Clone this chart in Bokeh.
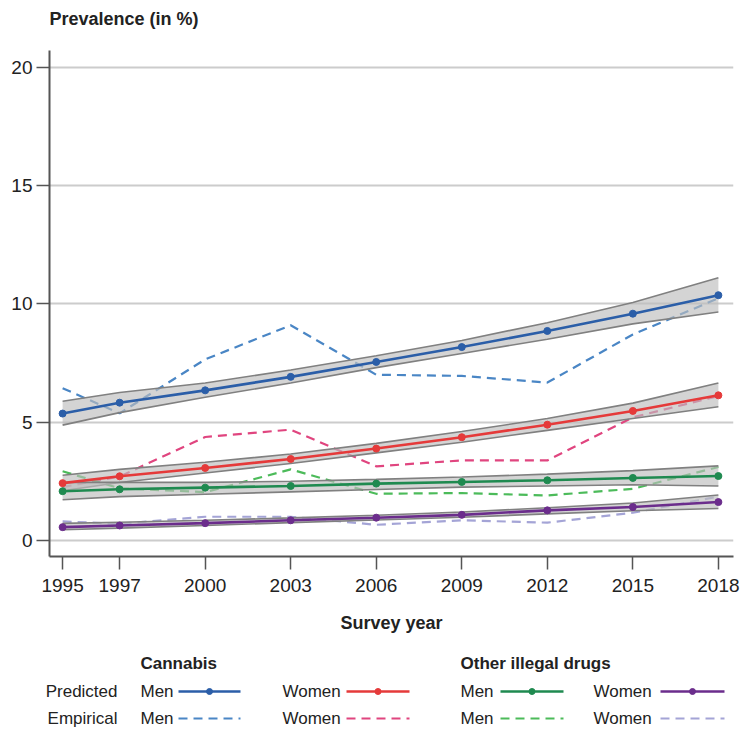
from bokeh.plotting import figure
from bokeh.models import Range1d, FixedTicker, Label, LinearAxis
from bokeh.layouts import column
from bokeh.embed import file_html
from bokeh.resources import INLINE

years = [1995, 1997, 2000, 2003, 2006, 2009, 2012, 2015, 2018]

# Cannabis, men
can_men_pred = [5.36, 5.82, 6.34, 6.91, 7.54, 8.17, 8.85, 9.58, 10.36]
can_men_lo = [4.87, 5.40, 6.05, 6.65, 7.30, 7.90, 8.50, 9.15, 9.65]
can_men_hi = [5.88, 6.25, 6.65, 7.20, 7.80, 8.45, 9.20, 10.05, 11.10]
can_men_emp = [6.43, 5.37, 7.65, 9.09, 7.00, 6.95, 6.67, 8.70, 10.23]

# Cannabis, women
can_wom_pred = [2.42, 2.71, 3.06, 3.44, 3.88, 4.36, 4.89, 5.47, 6.13]
can_wom_lo = [2.10, 2.45, 2.85, 3.25, 3.70, 4.15, 4.65, 5.15, 5.65]
can_wom_hi = [2.75, 3.00, 3.30, 3.65, 4.10, 4.60, 5.15, 5.80, 6.65]
can_wom_emp = [2.25, 2.70, 4.37, 4.68, 3.13, 3.38, 3.38, 5.20, 6.10]

# Other illegal drugs, men
oth_men_pred = [2.08, 2.16, 2.23, 2.30, 2.40, 2.47, 2.54, 2.64, 2.72]
oth_men_lo = [1.72, 1.85, 1.95, 2.05, 2.15, 2.25, 2.30, 2.35, 2.30]
oth_men_hi = [2.45, 2.45, 2.45, 2.50, 2.58, 2.68, 2.80, 2.95, 3.15]
oth_men_emp = [2.92, 2.20, 2.04, 3.00, 1.97, 2.00, 1.90, 2.18, 3.10]

# Other illegal drugs, women
oth_wom_pred = [0.56, 0.63, 0.73, 0.85, 0.96, 1.08, 1.27, 1.41, 1.62]
oth_wom_lo = [0.45, 0.52, 0.63, 0.75, 0.86, 0.98, 1.12, 1.25, 1.35]
oth_wom_hi = [0.72, 0.77, 0.85, 0.95, 1.06, 1.20, 1.38, 1.58, 1.92]
oth_wom_emp = [0.80, 0.70, 1.00, 1.00, 0.66, 0.85, 0.75, 1.17, 1.85]

y_ticks = [0, 5, 10, 15, 20]

series = [
    ("Cannabis", "Men", can_men_pred, can_men_lo, can_men_hi, can_men_emp, "#2b5ea8", "#4a86c5"),
    ("Cannabis", "Women", can_wom_pred, can_wom_lo, can_wom_hi, can_wom_emp, "#e53a3a", "#e0457f"),
    ("Other illegal drugs", "Men", oth_men_pred, oth_men_lo, oth_men_hi, oth_men_emp, "#1f8a50", "#4cbb5a"),
    ("Other illegal drugs", "Women", oth_wom_pred, oth_wom_lo, oth_wom_hi, oth_wom_emp, "#6b2d8c", "#a4a4d6"),
]

FONT = "Liberation Sans"
BL, BR, W = 49, 7, 740
XR = (1994.54, 2018.53)
YR = (-0.68, 20.7)
HH = 36  # header height

# ---- header with the chart title ----
hd = figure(width=W, height=HH, output_backend="svg", toolbar_location=None,
            x_range=Range1d(BL, W - BR), y_range=Range1d(HH, 0),
            x_axis_location=None, y_axis_location=None,
            min_border_left=BL, min_border_right=BR, min_border_top=0, min_border_bottom=0)
hd.outline_line_color = None
hd.grid.visible = False
hd.add_layout(Label(x=BL, y=18, text="Prevalence (in %)", text_font=FONT,
                    text_font_size="18px", text_font_style="bold", text_color="#222222",
                    text_align="left", text_baseline="middle"))

# ---- main chart ----
p = figure(width=W, height=648 - HH, output_backend="svg", toolbar_location=None,
           x_range=Range1d(*XR), y_range=Range1d(*YR),
           min_border_left=BL, min_border_right=BR, min_border_top=50 - HH, min_border_bottom=92)
p.outline_line_color = None
p.background_fill_color = "white"

p.xgrid.grid_line_color = None
p.ygrid.grid_line_color = "#cccccc"
p.ygrid.grid_line_width = 2
p.yaxis.ticker = FixedTicker(ticks=y_ticks)
p.xaxis.ticker = FixedTicker(ticks=years)

for ax in (p.xaxis[0], p.yaxis[0]):
    ax.axis_line_color = "#555555"
    ax.axis_line_width = 2
    ax.major_tick_line_color = "#555555"
    ax.major_tick_line_width = 1.5
    ax.major_tick_out = 13
    ax.major_tick_in = 0
    ax.minor_tick_line_color = None
    ax.major_label_text_font = FONT
    ax.major_label_text_font_size = "19px"
    ax.major_label_text_color = "#222222"
p.yaxis.major_label_standoff = 4
p.xaxis.major_label_standoff = 9
p.xaxis.axis_label = "Survey year"
p.xaxis.axis_label_text_font = FONT
p.xaxis.axis_label_text_font_size = "18px"
p.xaxis.axis_label_text_font_style = "bold"
p.xaxis.axis_label_text_color = "#222222"
p.xaxis.axis_label_standoff = 18

# empirical dashed lines
for grp, sex, pred, lo, hi, emp, c1, c2 in series:
    p.line(years, emp, line_color=c2, line_width=2.2, line_dash="9 6")

# confidence bands
for grp, sex, pred, lo, hi, emp, c1, c2 in series:
    p.varea(x=years, y1=lo, y2=hi, fill_color="#bdbdbd", fill_alpha=0.65)
    p.line(years, lo, line_color="#808080", line_width=1.6)
    p.line(years, hi, line_color="#808080", line_width=1.6)

# predicted lines
for grp, sex, pred, lo, hi, emp, c1, c2 in series:
    p.line(years, pred, line_color=c1, line_width=2.6)
    p.scatter(years, pred, size=7, fill_color=c1, line_color=c1)

# ---- legend panel (frame aligned with main plot frame: page x = data x) ----
LH = 81
Y0 = 648
ROW_PRED, ROW_EMP = 691 - Y0, 718 - Y0
lg = figure(width=W, height=LH, output_backend="svg", toolbar_location=None,
            x_range=Range1d(BL, W - BR), y_range=Range1d(LH, 0),
            x_axis_location=None, y_axis_location=None,
            min_border_left=BL, min_border_right=BR, min_border_top=0, min_border_bottom=0)
lg.outline_line_color = None
lg.grid.visible = False

# row labels "Predicted" / "Empirical" through a left axis (not clipped by the frame)
row_axis = LinearAxis(ticker=FixedTicker(ticks=[ROW_PRED, ROW_EMP]),
                      major_label_overrides={ROW_PRED: "Predicted", ROW_EMP: "Empirical"},
                      axis_line_color=None, major_tick_line_color=None, minor_tick_line_color=None,
                      major_tick_out=0, major_tick_in=0, major_label_standoff=-(117 - BL),
                      major_label_text_font=FONT, major_label_text_font_size="17px",
                      major_label_text_color="#222222")
lg.add_layout(row_axis, "left")

def t(x, y, s, bold=False, align="left"):
    lg.add_layout(Label(x=x, y=y - Y0, text=s, text_font=FONT, text_font_size="17px",
                        text_font_style="bold" if bold else "normal", text_color="#222222",
                        text_align=align, text_baseline="middle"))

t(140, 663, "Cannabis", bold=True)
t(460, 663, "Other illegal drugs", bold=True)

cols_x = [(140, 178, 240), (282, 346, 409), (460, 500, 563), (593, 660, 724)]
for (grp, sex, pred, lo, hi, emp, c1, c2), (tx, lx0, lx1) in zip(series, cols_x):
    t(tx, 691, sex)
    t(tx, 718, sex)
    lg.line([lx0, lx1], [ROW_PRED, ROW_PRED], line_color=c1, line_width=2.6)
    lg.scatter([(lx0 + lx1) / 2], [ROW_PRED], size=6, fill_color=c1, line_color=c1)
    lg.line([lx0, lx1], [ROW_EMP, ROW_EMP], line_color=c2, line_width=2.2, line_dash="9 6")

layout = column(hd, p, lg, spacing=0)
open("out.html", "w").write(file_html(layout, INLINE))
